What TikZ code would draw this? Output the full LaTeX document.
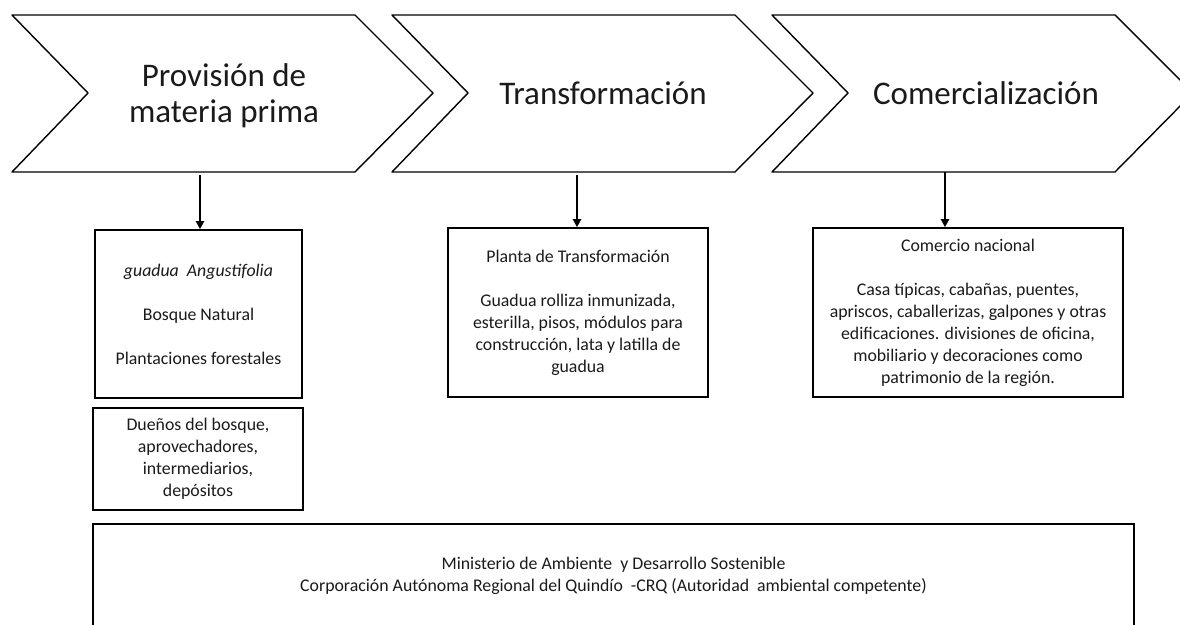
\documentclass[tikz,border=0pt]{standalone}
\usepackage{fontspec}
\setmainfont{Carlito}
\usetikzlibrary{arrows.meta}
\definecolor{txt}{HTML}{1A1A1A}
\tikzset{
  chev/.style={draw=black, line width=1.4pt, line join=round},
  bigtxt/.style={font=\fontsize{33}{36}\selectfont, text=txt, align=center, inner sep=0pt},
  boxnode/.style={draw=black, line width=1.6pt, align=center, inner sep=0pt, text=txt,
    font=\fontsize{17.8}{22}\selectfont},
  arr/.style={line width=2pt, -{Triangle[width=8pt,length=8pt]}},
}
\begin{document}
\begin{tikzpicture}[x=1pt,y=-1pt]
\useasboundingbox (0,0) rectangle (1180,624);
\clip (0,0) rectangle (1180,624);
% chevrons
\draw[chev] (88,93) -- (12,15) -- (355,15) -- (433,93) -- (355,172) -- (12,172) -- cycle;
\draw[chev] (468,93) -- (392,15) -- (735,15) -- (813,93) -- (735,172) -- (392,172) -- cycle;
\draw[chev] (848,93) -- (772,15) -- (1115,15) -- (1193,93) -- (1115,172) -- (772,172) -- cycle;
\node[bigtxt] (c1) at (224,96) {Provisión de\\materia prima};
\node[bigtxt] (c2) at (603,93) {Transformación};
\node[bigtxt] (c3) at (986,93) {Comercialización};
% boxes
\node[boxnode, minimum width=207pt, minimum height=168pt] (b1) at (198.5,314)
  {\textit{guadua\ \ Angustifolia}\\[22pt] Bosque Natural\\[22pt] Plantaciones forestales};
\node[boxnode, minimum width=210pt, minimum height=102pt] (b2) at (198,459)
  {Dueños del bosque,\\ aprovechadores,\\ intermediarios,\\ depósitos};
\node[boxnode, minimum width=260pt, minimum height=169pt] (b3) at (578,312.5)
  {Planta de Transformación\\[22pt] Guadua rolliza inmunizada,\\ esterilla, pisos, módulos para\\ construcción, lata y latilla de\\ guadua};
\node[boxnode, minimum width=310pt, minimum height=169pt] (b4) at (968,312.5)
  {Comercio nacional\\[22pt] Casa típicas, cabañas, puentes,\\ apriscos, caballerizas, galpones y otras\\ edificaciones. divisiones de oficina,\\ mobiliario y decoraciones como\\ patrimonio de la región.};
% bottom box
\draw[line width=1.6pt] (93,640) -- (93,524) -- (1134,524) -- (1134,640);
\node[align=center, inner sep=0pt, text=txt, font=\fontsize{17.8}{22}\selectfont] (b5) at (613.5,576)
  {Ministerio de Ambiente\ \ y Desarrollo Sostenible\\ Corporación Autónoma Regional del Quindío\ \ -CRQ (Autoridad\ \ ambiental competente)};
% arrows
\coordinate (a1) at (200,175);
\coordinate (a2) at (577,175);
\coordinate (a3) at (945,172);
\draw[arr] (a1) -- (a1 |- b1.north);
\draw[arr] (a2) -- (a2 |- b3.north);
\draw[arr] (a3) -- (a3 |- b4.north);
\end{tikzpicture}
\end{document}
